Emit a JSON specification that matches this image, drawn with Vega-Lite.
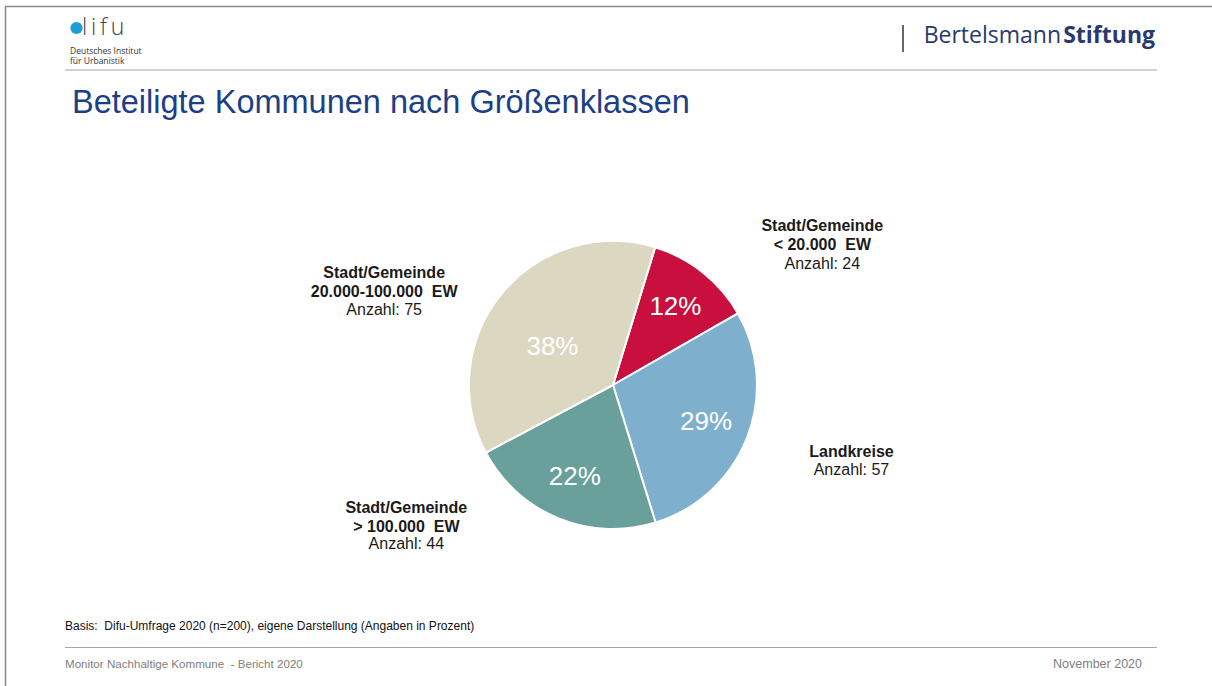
{
  "$schema": "https://vega.github.io/schema/vega-lite/v6.json",
  "width": 1198,
  "height": 602,
  "padding": {"left": 14, "top": 84, "right": 0, "bottom": 0},
  "autosize": "none",
  "background": "#ffffff",
  "config": {"view": {"stroke": null}, "font": "Liberation Sans"},
  "data": {
    "values": [
      {"key": "lt20", "name": ["Stadt/Gemeinde", "< 20.000\u00a0 EW"], "count": 24, "pct": 0.12, "rank": 1},
      {"key": "land", "name": ["Landkreise"], "count": 57, "pct": 0.29, "rank": 2},
      {"key": "gt100", "name": ["Stadt/Gemeinde", "> 100.000\u00a0 EW"], "count": 44, "pct": 0.22, "rank": 3},
      {"key": "mid", "name": ["Stadt/Gemeinde", "20.000-100.000\u00a0 EW"], "count": 75, "pct": 0.38, "rank": 4}
    ]
  },
  "layer": [
    {
      "transform": [{"calculate": "'Anzahl: ' + datum.count", "as": "anzahl"}],
      "encoding": {
        "theta": {"field": "count", "type": "quantitative", "stack": true, "scale": {"domain": [0, 200], "range": [0.297, 6.5802]}},
        "detail": {"field": "key", "type": "nominal"},
        "order": {"field": "rank", "type": "quantitative"}
      },
      "layer": [
        {
          "mark": {"type": "arc", "outerRadius": 144, "stroke": "#ffffff", "strokeWidth": 2},
          "encoding": {
            "color": {"field": "key", "type": "nominal", "legend": null,
              "scale": {"domain": ["lt20", "land", "gt100", "mid"], "range": ["#c80f3e", "#7eb0cd", "#69a09b", "#dcd7c1"]}}
          }
        },
        {
          "mark": {"type": "text", "radius": 100, "fontSize": 26, "fill": "#ffffff", "align": "center", "baseline": "middle"},
          "encoding": {"text": {"condition": {"test": "datum.key !== 'mid'", "field": "pct", "format": ".0%", "type": "quantitative"}, "value": ""}}
        },
        {
          "mark": {"type": "text", "radius": 72, "fontSize": 26, "fill": "#ffffff", "align": "center", "baseline": "middle", "dx": -5, "dy": 8},
          "encoding": {"text": {"condition": {"test": "datum.key === 'mid'", "field": "pct", "format": ".0%", "type": "quantitative"}, "value": ""}}
        },
        {
          "mark": {"type": "text", "radius": 180, "align": "center", "baseline": "top", "fontSize": 16, "fontWeight": "bold", "lineHeight": 19, "fill": "#1a1a1a", "dx": 97, "dy": -26},
          "encoding": {"text": {"condition": {"test": "datum.key === 'lt20'", "field": "name"}, "value": ""}}
        },
        {
          "mark": {"type": "text", "radius": 180, "align": "center", "baseline": "top", "fontSize": 16, "fill": "#1a1a1a", "dx": 97, "dy": 12},
          "encoding": {"text": {"condition": {"test": "datum.key === 'lt20'", "field": "anzahl"}, "value": ""}}
        },
        {
          "mark": {"type": "text", "radius": 180, "align": "center", "baseline": "top", "fontSize": 16, "fontWeight": "bold", "lineHeight": 19, "fill": "#1a1a1a", "dx": 71, "dy": -7},
          "encoding": {"text": {"condition": {"test": "datum.key === 'land'", "field": "name"}, "value": ""}}
        },
        {
          "mark": {"type": "text", "radius": 180, "align": "center", "baseline": "top", "fontSize": 16, "fill": "#1a1a1a", "dx": 71, "dy": 11},
          "encoding": {"text": {"condition": {"test": "datum.key === 'land'", "field": "anzahl"}, "value": ""}}
        },
        {
          "mark": {"type": "text", "radius": 180, "align": "center", "baseline": "top", "fontSize": 16, "fontWeight": "bold", "lineHeight": 19, "fill": "#1a1a1a", "dx": -138, "dy": -51},
          "encoding": {"text": {"condition": {"test": "datum.key === 'gt100'", "field": "name"}, "value": ""}}
        },
        {
          "mark": {"type": "text", "radius": 180, "align": "center", "baseline": "top", "fontSize": 16, "fill": "#1a1a1a", "dx": -138, "dy": -15},
          "encoding": {"text": {"condition": {"test": "datum.key === 'gt100'", "field": "anzahl"}, "value": ""}}
        },
        {
          "mark": {"type": "text", "radius": 180, "align": "center", "baseline": "top", "fontSize": 16, "fontWeight": "bold", "lineHeight": 19, "fill": "#1a1a1a", "dx": -90, "dy": -5},
          "encoding": {"text": {"condition": {"test": "datum.key === 'mid'", "field": "name"}, "value": ""}}
        },
        {
          "mark": {"type": "text", "radius": 180, "align": "center", "baseline": "top", "fontSize": 16, "fill": "#1a1a1a", "dx": -90, "dy": 32},
          "encoding": {"text": {"condition": {"test": "datum.key === 'mid'", "field": "anzahl"}, "value": ""}}
        }
      ]
    },
    {
      "data": {"values": [{}]},
      "mark": {"type": "rule", "stroke": "#8c8c8c", "strokeWidth": 1.5},
      "encoding": {"x": {"value": -8.5}, "y": {"value": -78}, "y2": {"value": 602}}
    },
    {
      "data": {"values": [{}]},
      "mark": {"type": "rule", "stroke": "#8c8c8c", "strokeWidth": 1.5},
      "encoding": {"x": {"value": -9}, "x2": {"value": 1198}, "y": {"value": -77.5}}
    },
    {
      "data": {"values": [{}]},
      "mark": {"type": "rule", "stroke": "#a6a6a6", "strokeWidth": 1},
      "encoding": {"x": {"value": 51}, "x2": {"value": 1143}, "y": {"value": -14}}
    },
    {
      "data": {"values": [{}]},
      "mark": {"type": "rule", "stroke": "#a6a6a6", "strokeWidth": 1},
      "encoding": {"x": {"value": 51}, "x2": {"value": 1143}, "y": {"value": 563.5}}
    },
    {
      "data": {"values": [{}]},
      "mark": {"type": "rule", "stroke": "#333333", "strokeWidth": 1.5},
      "encoding": {"x": {"value": 889}, "y": {"value": -59}, "y2": {"value": -32}}
    },
    {
      "data": {"values": [{}]},
      "mark": {"type": "circle", "x": 62.5, "y": -56, "size": 150, "fill": "#1e9cd7", "opacity": 1},
      "encoding": {}
    },
    {
      "data": {"values": [{}]},
      "mark": {"type": "text", "x": 68, "y": -49, "text": "l\u2009i\u2009f\u2009u", "font": "Open Sans", "fontWeight": 300, "fontSize": 23, "fill": "#444444", "align": "left", "baseline": "alphabetic"},
      "encoding": {}
    },
    {
      "data": {"values": [{}]},
      "mark": {"type": "text", "x": 56, "y": -37, "text": ["Deutsches Institut", "für Urbanistik"], "font": "Open Sans", "fontSize": 8.5, "lineHeight": 10, "fill": "#333333", "align": "left", "baseline": "top"},
      "encoding": {}
    },
    {
      "data": {"values": [{}]},
      "mark": {"type": "text", "x": 1047, "y": -41, "text": "Bertelsmann", "font": "Open Sans", "fontSize": 23, "fill": "#283a6e", "align": "right", "baseline": "alphabetic"},
      "encoding": {}
    },
    {
      "data": {"values": [{}]},
      "mark": {"type": "text", "x": 1141, "y": -41, "text": "Stiftung", "font": "Open Sans", "fontWeight": "bold", "fontSize": 23, "fill": "#283a6e", "align": "right", "baseline": "alphabetic"},
      "encoding": {}
    },
    {
      "data": {"values": [{}]},
      "mark": {"type": "text", "x": 58, "y": 29, "text": "Beteiligte Kommunen nach Größenklassen", "fontSize": 32.5, "fill": "#1c3f87", "align": "left", "baseline": "alphabetic"},
      "encoding": {}
    },
    {
      "data": {"values": [{}]},
      "mark": {"type": "text", "x": 51, "y": 546, "text": "Basis:\u00a0 Difu-Umfrage 2020 (n=200), eigene Darstellung (Angaben in Prozent)", "fontSize": 12, "fill": "#111111", "align": "left", "baseline": "alphabetic"},
      "encoding": {}
    },
    {
      "data": {"values": [{}]},
      "mark": {"type": "text", "x": 51, "y": 584, "text": "Monitor Nachhaltige Kommune\u00a0 - Bericht 2020", "fontSize": 11.6, "fill": "#808080", "align": "left", "baseline": "alphabetic"},
      "encoding": {}
    },
    {
      "data": {"values": [{}]},
      "mark": {"type": "text", "x": 1128, "y": 584, "text": "November 2020", "fontSize": 12.5, "fill": "#808080", "align": "right", "baseline": "alphabetic"},
      "encoding": {}
    }
  ]
}
